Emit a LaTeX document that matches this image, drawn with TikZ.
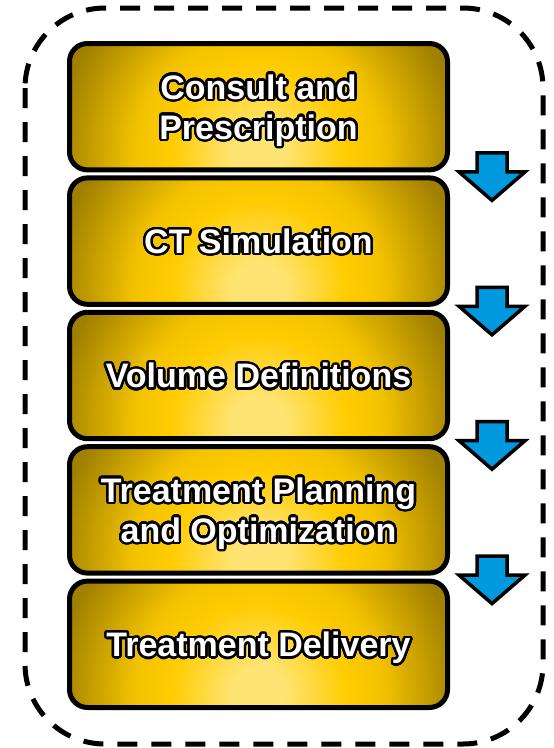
\documentclass[tikz,border=0pt]{standalone}
\usepackage{fontspec}
\setmainfont{Liberation Sans}
\usepackage{xcolor}
\usepackage{contour}
\usetikzlibrary{calc}
\usetikzlibrary{positioning}

\contourlength{2.4pt}
\contournumber{32}

\definecolor{goldlight}{RGB}{255,228,115}
\definecolor{goldmid}{RGB}{255,204,0}
\definecolor{golddark}{RGB}{160,128,0}
\definecolor{arrowblue}{RGB}{0,153,221}

\pgfdeclareradialshading{goldglow}{\pgfpoint{0bp}{0bp}}{color(0bp)=(goldlight); color(3bp)=(goldlight); color(10bp)=(goldmid); color(14bp)=(goldmid!88!golddark); color(23bp)=(golddark); color(75bp)=(golddark)}

\tikzset{
    stepbox/.style={draw=black, line width=5pt, rounded corners=18pt, fill=golddark,
        minimum width=378pt, minimum height=126.4pt, inner sep=0pt, align=center,
        text=white, text depth=0pt, font=\bfseries\fontsize{34}{40}\selectfont,
        path picture={\shade[shading=goldglow] ($(path picture bounding box.south)+(-220,205)$) rectangle ++(440,-440);}},
    downarrow/.style={draw=black, fill=arrowblue, line width=3.5pt, line join=miter},
    frame/.style={draw=black, line width=5pt, dash pattern=on 20pt off 14pt, rounded corners=80pt}
}

\begin{document}
\begin{tikzpicture}[x=1pt, y=-1pt]
    \useasboundingbox (0,0) rectangle (554,748);
    \draw[frame] (25,8) rectangle (543,744);

    \node[stepbox] (b1) at (258.5,106.7) {\contour{black}{Consult and}\\\contour{black}{Prescription}};
    \node[stepbox, below=3pt of b1] (b2) {\contour{black}{CT Simulation}};
    \node[stepbox, below=3pt of b2] (b3) {\contour{black}{Volume Definitions}};
    \node[stepbox, below=3pt of b3] (b4) {\contour{black}{Treatment Planning}\\\contour{black}{and Optimization}};
    \node[stepbox, below=3pt of b4] (b5) {\contour{black}{Treatment Delivery}};

    \coordinate (a1) at ($(b1.south east)!0.5!(b2.north east)+(42,0)$);
    \coordinate (a2) at ($(b2.south east)!0.5!(b3.north east)+(42,0)$);
    \coordinate (a3) at ($(b3.south east)!0.5!(b4.north east)+(42,0)$);
    \coordinate (a4) at ($(b4.south east)!0.5!(b5.north east)+(42,0)$);

    \foreach \i in {1,...,4}
        \draw[downarrow] ($(a\i)+(-15,-21)$) -- ++(30,0) -- ++(0,19) -- ++(18,0)
            -- ++(-33,28.5) -- ++(-33,-28.5) -- ++(18,0) -- cycle;
\end{tikzpicture}
\end{document}
